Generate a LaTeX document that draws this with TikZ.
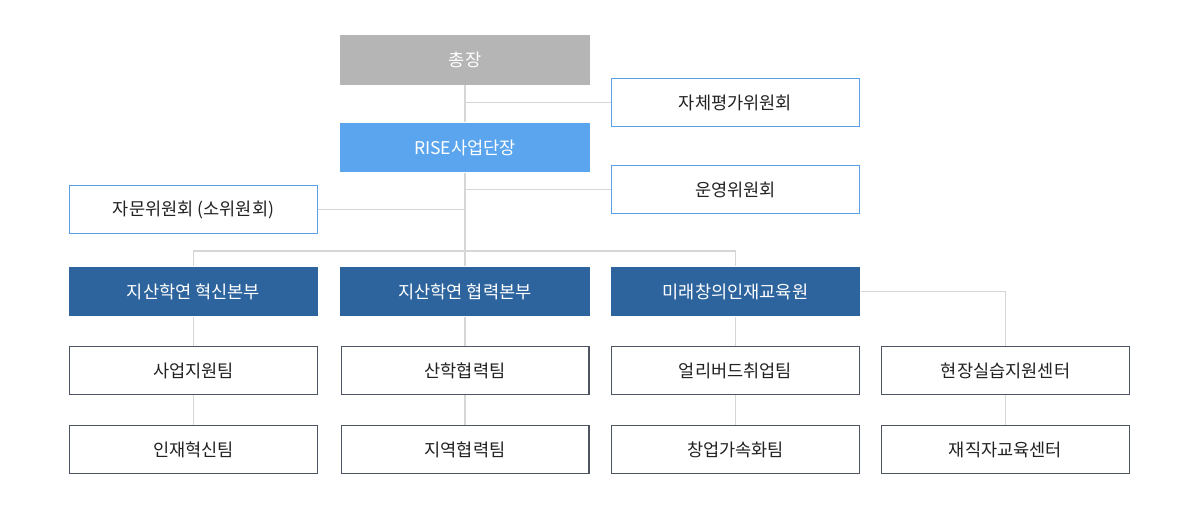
\documentclass[tikz,border=0pt]{standalone}
\usepackage{fontspec}
\setmainfont{Noto Sans CJK KR}
\usepackage{tikz}
\usetikzlibrary{backgrounds}

\definecolor{topgray}{HTML}{B5B5B5}
\definecolor{riseblue}{HTML}{5AA5EE}
\definecolor{unitblue}{HTML}{2D649E}
\definecolor{cmteline}{HTML}{5AA0E6}
\definecolor{teamline}{HTML}{4D5462}
\definecolor{linkgray}{HTML}{D6D6D6}
\definecolor{txtdark}{HTML}{222222}

\begin{document}
\begin{tikzpicture}[x=0.02cm, y=-0.02cm,
    every node/.style={minimum width=5cm, minimum height=1cm, inner sep=0pt,
        font=\fontsize{10}{12}\selectfont},
    headbox/.style={fill=topgray, text=white},
    risebox/.style={fill=riseblue, text=white},
    unitbox/.style={fill=unitblue, text=white},
    cmtebox/.style={draw=cmteline, line width=0.6pt, fill=white, text=txtdark,
        minimum width=4.96cm, minimum height=0.96cm},
    teambox/.style={draw=teamline, line width=0.6pt, fill=white, text=txtdark,
        minimum width=4.96cm, minimum height=0.96cm},
    link/.style={draw=linkgray, line width=1.1pt}]
    \useasboundingbox (0,0) rectangle (1200,524);

    %top
    \node[headbox] (chongjang) at (465,60) {총장};
    \node[cmtebox] (jache) at (735.5,102.5) {자체평가위원회};
    \node[risebox] (rise) at (465,147.5) {RISE사업단장};
    \node[cmtebox] (unyeong) at (735.5,189.5) {운영위원회};
    \node[cmtebox] (jamun) at (193.5,209.5) {자문위원회 (소위원회)};

    %units
    \node[unitbox] (hyeoksin) at (193.5,291.5) {지산학연 혁신본부};
    \node[unitbox] (hyeomnyeok) at (465,291.5) {지산학연 협력본부};
    \node[unitbox] (mirae) at (735.5,291.5) {미래창의인재교육원};

    %teams
    \node[teambox] (saeop) at (193.5,370.5) {사업지원팀};
    \node[teambox] (inje) at (193.5,449.5) {인재혁신팀};
    \node[teambox] (sanhak) at (465,370.5) {산학협력팀};
    \node[teambox] (jiyeok) at (465,449.5) {지역협력팀};
    \node[teambox] (early) at (735.5,370.5) {얼리버드취업팀};
    \node[teambox] (changeop) at (735.5,449.5) {창업가속화팀};
    \node[teambox] (hyeonjang) at (1005.5,370.5) {현장실습지원센터};
    \node[teambox] (jaejik) at (1005.5,449.5) {재직자교육센터};

    %connectors
    \begin{pgfonlayer}{background}
    \coordinate (bus) at (465,251);
    \path[link] (chongjang.south) -- (rise.north);
    \path[link] (chongjang.south |- jache.west) -- (jache.west);
    \path[link] (rise.south) -- (bus);
    \path[link] (rise.south |- unyeong.west) -- (unyeong.west);
    \path[link] (jamun.east) -- (rise.south |- jamun.east);
    \path[link] (hyeoksin.north) -- (hyeoksin.north |- bus) -- (mirae.north |- bus) -- (mirae.north);
    \path[link] (bus) -- (hyeomnyeok.north);
    \path[link] (mirae.east) -| (hyeonjang.north);
    \path[link] (hyeoksin.south) -- (saeop.north);
    \path[link] (saeop.south) -- (inje.north);
    \path[link] (hyeomnyeok.south) -- (sanhak.north);
    \path[link] (sanhak.south) -- (jiyeok.north);
    \path[link] (mirae.south) -- (early.north);
    \path[link] (early.south) -- (changeop.north);
    \path[link] (hyeonjang.south) -- (jaejik.north);
    \end{pgfonlayer}
\end{tikzpicture}
\end{document}
